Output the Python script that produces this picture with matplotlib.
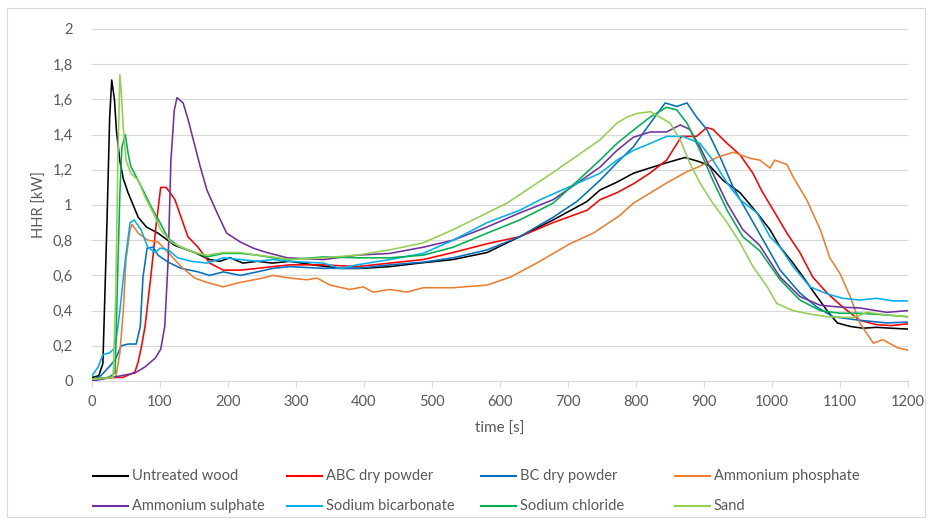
import matplotlib
matplotlib.use("Agg")
import matplotlib.pyplot as plt
from matplotlib.lines import Line2D
from matplotlib.patches import Rectangle

plt.rcParams['font.family'] = ['Lato', 'DejaVu Sans']

# ---------------- data ----------------
names = ["Untreated wood", "ABC dry powder", "BC dry powder", "Ammonium phosphate",
         "Ammonium sulphate", "Sodium bicarbonate", "Sodium chloride", "Sand"]
colors = ["#000000", "#FF0000", "#0070C0", "#ED7D31",
          "#7030A0", "#00B0F0", "#00B050", "#92D050"]

wood_t = [0, 10, 16, 22, 26, 29, 33, 36, 41, 46, 53, 68, 80, 97, 122, 151, 173, 188, 203, 222, 243, 265, 291,
          325, 365, 399, 438, 482, 531, 581, 629, 678, 728, 747, 772, 796, 820, 845, 872, 894, 909, 928, 953,
          978, 997, 1012, 1031, 1046, 1066, 1081, 1096, 1115, 1134, 1154, 1175, 1200]
wood_v = [0.02, 0.03, 0.10, 0.90, 1.50, 1.71, 1.60, 1.42, 1.25, 1.15, 1.07, 0.93, 0.875, 0.84, 0.77, 0.73, 0.69,
          0.68, 0.70, 0.67, 0.68, 0.67, 0.68, 0.66, 0.64, 0.64, 0.65, 0.67, 0.69, 0.73, 0.82, 0.915, 1.02, 1.085,
          1.13, 1.18, 1.21, 1.24, 1.27, 1.245, 1.22, 1.14, 1.07, 0.955, 0.86, 0.76, 0.67, 0.59, 0.48, 0.40, 0.33,
          0.31, 0.30, 0.305, 0.30, 0.295]

abc_t = [0, 24, 45, 63, 68, 73, 78, 87, 94, 101, 109, 115, 122, 131, 141, 156, 173, 193, 218, 243, 266, 291,
         340, 390, 438, 487, 531, 581, 629, 678, 728, 747, 772, 796, 820, 845, 867, 889, 904, 913, 934, 953,
         972, 985, 1002, 1022, 1041, 1060, 1081, 1104, 1129, 1154, 1175, 1200]
abc_v = [0.01, 0.02, 0.02, 0.05, 0.11, 0.20, 0.31, 0.61, 0.875, 1.10, 1.10, 1.07, 1.03, 0.93, 0.82, 0.76, 0.67,
         0.63, 0.63, 0.64, 0.65, 0.66, 0.66, 0.65, 0.67, 0.69, 0.73, 0.78, 0.82, 0.90, 0.97, 1.03, 1.07, 1.12,
         1.18, 1.255, 1.39, 1.39, 1.44, 1.43, 1.35, 1.285, 1.18, 1.08, 0.97, 0.84, 0.73, 0.59, 0.50, 0.42, 0.345,
         0.32, 0.315, 0.325]

bc_t = [0, 13, 25, 34, 43, 53, 65, 71, 75, 81, 90, 97, 112, 131, 144, 156, 173, 193, 218, 243, 266, 291, 340,
        390, 438, 487, 531, 581, 629, 678, 713, 747, 772, 796, 821, 843, 860, 875, 889, 904, 924, 943, 968, 993,
        1012, 1041, 1066, 1090, 1129, 1169, 1200]
bc_v = [0.0, 0.03, 0.08, 0.12, 0.20, 0.21, 0.21, 0.31, 0.59, 0.755, 0.76, 0.715, 0.675, 0.64, 0.63, 0.62, 0.60,
        0.62, 0.60, 0.62, 0.64, 0.65, 0.64, 0.64, 0.66, 0.675, 0.70, 0.745, 0.82, 0.93, 1.02, 1.14, 1.24, 1.33,
        1.465, 1.58, 1.56, 1.58, 1.50, 1.43, 1.27, 1.10, 0.93, 0.76, 0.63, 0.50, 0.42, 0.365, 0.345, 0.33, 0.335]

aph_t = [0, 35, 41, 46, 50, 56, 59, 68, 82, 97, 112, 131, 151, 169, 193, 218, 251, 266, 291, 316, 331, 350, 379,
         399, 413, 438, 463, 487, 531, 581, 615, 654, 703, 737, 776, 796, 845, 875, 894, 919, 943, 968, 982, 997,
         1004, 1022, 1031, 1051, 1071, 1085, 1100, 1115, 1129, 1149, 1163, 1184, 1200]
aph_v = [0.01, 0.02, 0.16, 0.40, 0.69, 0.86, 0.89, 0.84, 0.80, 0.79, 0.73, 0.65, 0.585, 0.56, 0.535, 0.56, 0.585,
         0.60, 0.585, 0.575, 0.585, 0.545, 0.52, 0.535, 0.505, 0.52, 0.505, 0.53, 0.53, 0.545, 0.59, 0.67, 0.78,
         0.84, 0.94, 1.01, 1.125, 1.19, 1.22, 1.27, 1.30, 1.265, 1.255, 1.21, 1.255, 1.23, 1.16, 1.03, 0.86, 0.70,
         0.61, 0.48, 0.33, 0.215, 0.235, 0.19, 0.175]

asu_t = [0, 43, 63, 78, 93, 101, 107, 112, 116, 121, 125, 134, 141, 151, 159, 169, 184, 198, 218, 237, 257, 287,
         340, 390, 438, 487, 531, 581, 629, 678, 712, 747, 772, 796, 821, 845, 865, 879, 894, 913, 934, 957, 982,
         1012, 1041, 1071, 1100, 1129, 1169, 1200]
asu_v = [0.0, 0.03, 0.045, 0.08, 0.13, 0.18, 0.31, 0.69, 1.25, 1.54, 1.61, 1.58, 1.49, 1.34, 1.22, 1.085, 0.955,
         0.84, 0.79, 0.755, 0.73, 0.70, 0.69, 0.715, 0.725, 0.76, 0.80, 0.875, 0.955, 1.03, 1.12, 1.215, 1.31,
         1.385, 1.415, 1.415, 1.455, 1.43, 1.33, 1.18, 1.01, 0.86, 0.77, 0.59, 0.48, 0.43, 0.42, 0.415, 0.39, 0.40]

sbi_t = [0, 9, 16, 26, 34, 41, 49, 56, 62, 72, 82, 93, 100, 112, 126, 146, 169, 193, 218, 243, 266, 291, 340, 365,
         390, 438, 487, 531, 581, 629, 659, 700, 747, 772, 796, 821, 845, 869, 894, 913, 934, 953, 978, 997, 1012,
         1031, 1056, 1081, 1104, 1129, 1154, 1178, 1200]
sbi_v = [0.03, 0.08, 0.15, 0.16, 0.19, 0.40, 0.69, 0.90, 0.915, 0.86, 0.76, 0.73, 0.755, 0.745, 0.70, 0.68, 0.67,
         0.70, 0.69, 0.68, 0.69, 0.68, 0.67, 0.64, 0.66, 0.69, 0.725, 0.80, 0.90, 0.97, 1.03, 1.10, 1.18, 1.255,
         1.31, 1.35, 1.39, 1.39, 1.35, 1.255, 1.125, 1.03, 0.955, 0.82, 0.76, 0.65, 0.535, 0.495, 0.47, 0.46, 0.47,
         0.455, 0.455]

sch_t = [0, 24, 34, 37, 41, 44, 49, 53, 57, 65, 75, 87, 100, 112, 126, 141, 169, 193, 218, 243, 266, 291, 340,
         390, 438, 487, 531, 581, 629, 678, 712, 747, 772, 796, 821, 845, 860, 875, 894, 913, 934, 957, 982, 1012,
         1041, 1071, 1100, 1129, 1169, 1200]
sch_v = [0.01, 0.02, 0.045, 0.50, 1.07, 1.33, 1.40, 1.295, 1.22, 1.16, 1.085, 0.99, 0.90, 0.81, 0.77, 0.745,
         0.705, 0.725, 0.725, 0.715, 0.70, 0.69, 0.705, 0.70, 0.70, 0.715, 0.76, 0.84, 0.915, 1.01, 1.13, 1.255,
         1.35, 1.425, 1.50, 1.555, 1.54, 1.465, 1.31, 1.14, 0.97, 0.82, 0.74, 0.575, 0.46, 0.40, 0.385, 0.385,
         0.375, 0.365]

sand_t = [0, 31, 35, 38, 41, 43, 46, 50, 57, 68, 78, 90, 101, 116, 131, 151, 169, 193, 218, 243, 266, 291, 340,
          390, 438, 487, 531, 581, 610, 680, 747, 772, 787, 801, 821, 835, 850, 865, 879, 894, 913, 934, 953, 972,
          993, 1007, 1031, 1056, 1081, 1119, 1140, 1159, 1200]
sand_v = [0.01, 0.02, 0.50, 1.25, 1.74, 1.64, 1.44, 1.255, 1.18, 1.14, 1.045, 0.955, 0.86, 0.79, 0.76, 0.73,
          0.715, 0.73, 0.73, 0.715, 0.705, 0.69, 0.70, 0.715, 0.745, 0.785, 0.86, 0.955, 1.01, 1.19, 1.37, 1.465,
          1.50, 1.52, 1.53, 1.50, 1.465, 1.37, 1.24, 1.125, 1.01, 0.90, 0.785, 0.65, 0.535, 0.44, 0.40, 0.38,
          0.365, 0.36, 0.39, 0.38, 0.365]

series = [(wood_t, wood_v), (abc_t, abc_v), (bc_t, bc_v), (aph_t, aph_v),
          (asu_t, asu_v), (sbi_t, sbi_v), (sch_t, sch_v), (sand_t, sand_v)]

x_ticks = [0, 100, 200, 300, 400, 500, 600, 700, 800, 900, 1000, 1100, 1200]
y_ticks = [0, 0.2, 0.4, 0.6, 0.8, 1.0, 1.2, 1.4, 1.6, 1.8, 2.0]
y_labels = ["0", "0,2", "0,4", "0,6", "0,8", "1", "1,2", "1,4", "1,6", "1,8", "2"]

# ---------------- figure ----------------
W, H = 931, 523
fig = plt.figure(figsize=(W / 100, H / 100), dpi=100)
fig.patch.set_facecolor("white")

# outer chart border
fig.patches.append(Rectangle((7 / W, 1 - 517 / H), (925 - 7) / W, (517 - 8) / H,
                             transform=fig.transFigure, fill=False, edgecolor="#D9D9D9", linewidth=0.8))

L, R, T, B = 92, 908, 29, 381
ax = fig.add_axes([L / W, 1 - B / H, (R - L) / W, (B - T) / H])

for (t, v), c in zip(series, colors):
    ax.plot(t, v, color=c, linewidth=1.15, solid_joinstyle="round")

ax.set_xlim(0, 1200)
ax.set_ylim(0, 2)
ax.set_xticks(x_ticks)
ax.set_xticklabels([str(x) for x in x_ticks])
ax.set_yticks(y_ticks)
ax.set_yticklabels(y_labels)

txtc = "#595959"
ax.tick_params(axis="x", colors="#D9D9D9", labelcolor=txtc, labelsize=10.5, length=4, width=0.8, pad=6)
ax.tick_params(axis="y", length=0, labelcolor=txtc, labelsize=10.5, pad=14)
ax.grid(axis="y", color="#D9D9D9", linewidth=0.8)
ax.set_axisbelow(True)
for s in ["top", "right", "left"]:
    ax.spines[s].set_visible(False)
ax.spines["bottom"].set_color("#D9D9D9")
ax.spines["bottom"].set_linewidth(0.8)

fig.text(40 / W, 1 - 205 / H, "HHR [kW]", rotation=90, ha="center", va="center", color=txtc, fontsize=10.5)
fig.text(500 / W, 1 - 429 / H, "time [s]", ha="center", va="center", color=txtc, fontsize=11)

# legend (manual layout)
for i, (n, c) in enumerate(zip(names, colors)):
    col, row = i % 4, i // 4
    x0 = 93 + 194 * col
    y0 = 476 + 30 * row
    fig.lines.append(Line2D([x0 / W, (x0 + 35) / W], [1 - y0 / H, 1 - y0 / H],
                            transform=fig.transFigure, color=c, linewidth=1.5))
    fig.text((x0 + 39) / W, 1 - y0 / H, n, ha="left", va="center", color=txtc, fontsize=10.5)

fig.savefig("out.png", dpi=100)
